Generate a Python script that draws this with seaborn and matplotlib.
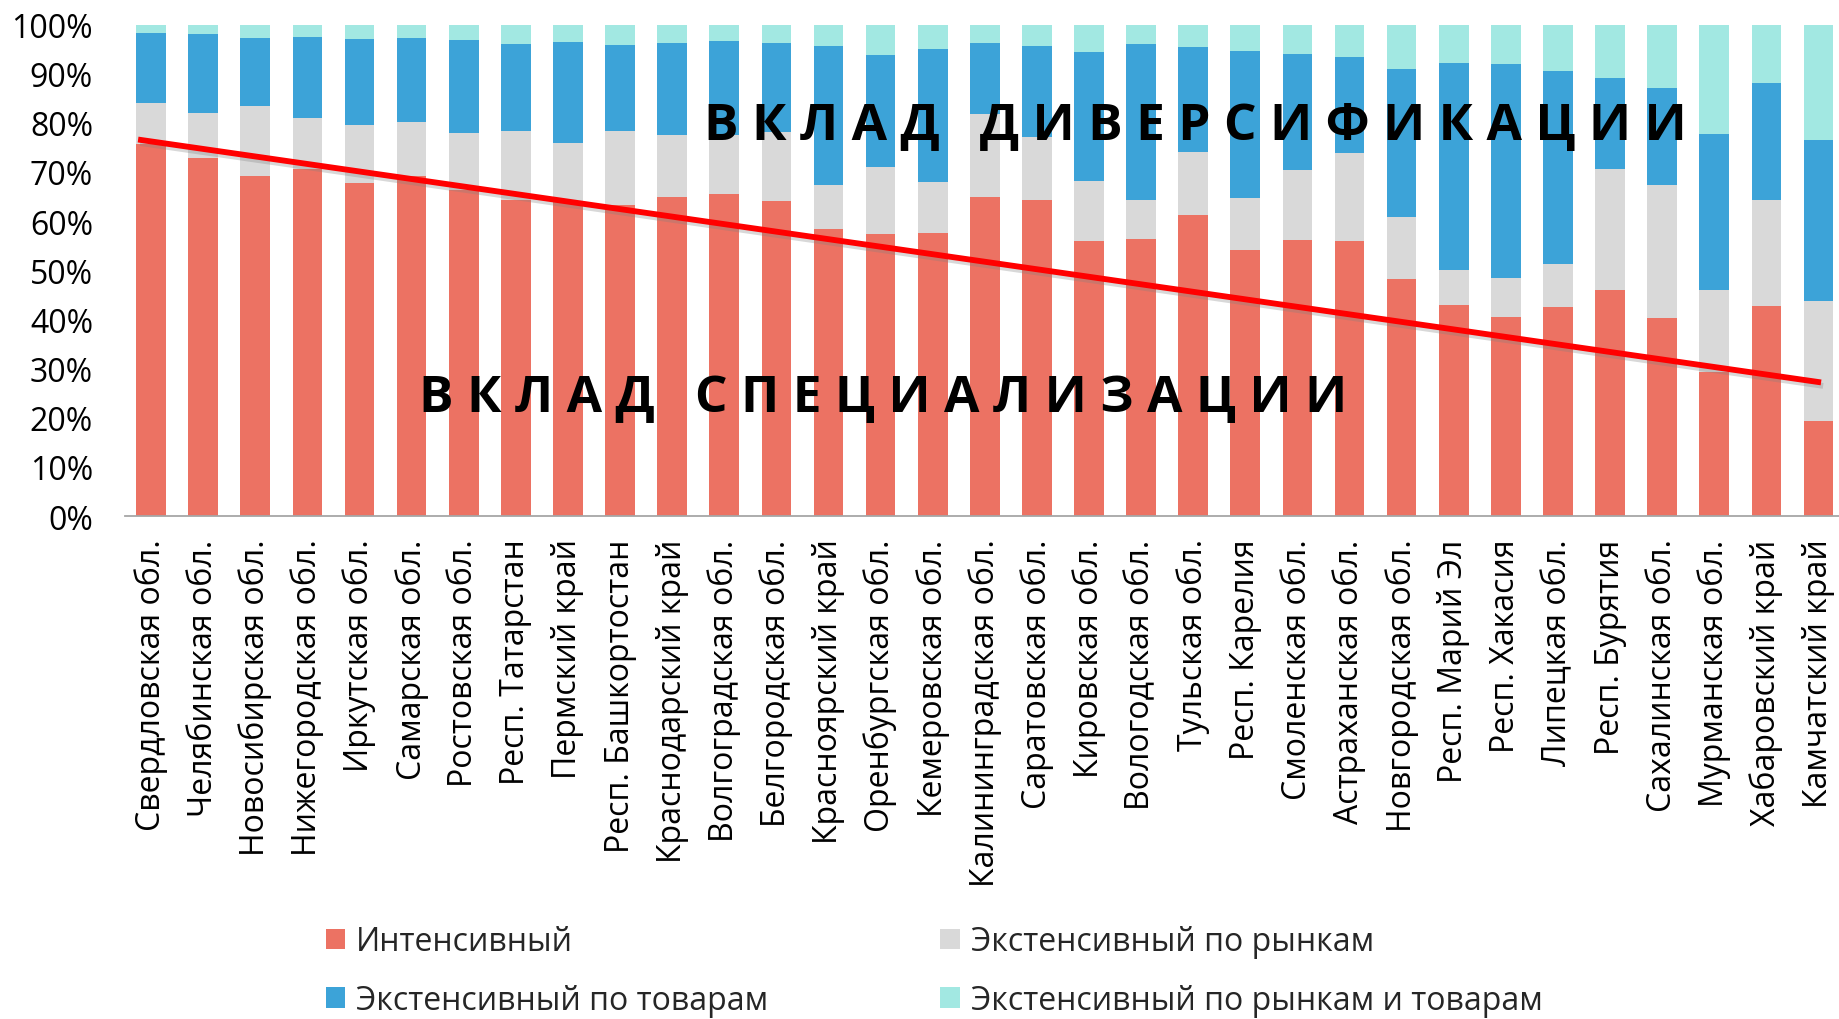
import numpy as np
import pandas as pd
import matplotlib
matplotlib.use("Agg")
import matplotlib.pyplot as plt
import matplotlib.patheffects as pe
from matplotlib.patches import Patch
from matplotlib.ticker import FuncFormatter, MultipleLocator
import seaborn as sns

regions = [
    "Свердловская обл.", "Челябинская обл.", "Новосибирская обл.", "Нижегородская обл.",
    "Иркутская обл.", "Самарская обл.", "Ростовская обл.", "Респ. Татарстан",
    "Пермский край", "Респ. Башкортостан", "Краснодарский край", "Волгоградская обл.",
    "Белгородская обл.", "Красноярский край", "Оренбургская обл.", "Кемеровская обл.",
    "Калининградская обл.", "Саратовская обл.", "Кировская обл.", "Вологодская обл.",
    "Тульская обл.", "Респ. Карелия", "Смоленская обл.", "Астраханская обл.",
    "Новгородская обл.", "Респ. Марий Эл", "Респ. Хакасия", "Липецкая обл.",
    "Респ. Бурятия", "Сахалинская обл.", "Мурманская обл.", "Хабаровский край",
    "Камчатский край",
]

intensive = [75.7, 72.9, 69.2, 70.6, 67.8, 69.2, 66.4, 64.3, 63.8, 63.3, 64.9, 65.5,
             64.0, 58.4, 57.4, 57.6, 65.0, 64.3, 55.9, 56.3, 61.2, 54.1, 56.1, 55.9,
             48.3, 43.0, 40.6, 42.5, 45.9, 40.4, 29.4, 42.7, 19.4]
ext_markets = [8.4, 9.1, 14.2, 10.3, 11.7, 10.9, 11.6, 14.0, 12.0, 15.1, 12.6, 12.0,
               14.1, 9.0, 13.6, 10.3, 16.7, 12.8, 12.3, 8.0, 12.8, 10.6, 14.3, 17.9,
               12.5, 7.1, 7.9, 8.7, 24.7, 27.0, 16.5, 21.6, 24.4]
ext_goods = [14.2, 16.0, 13.8, 16.5, 17.5, 17.1, 18.8, 17.8, 20.6, 17.5, 18.8, 19.1,
             18.2, 28.3, 22.7, 27.2, 14.6, 18.6, 26.3, 31.8, 21.5, 30.0, 23.7, 19.6,
             30.1, 42.0, 43.4, 39.4, 18.6, 19.6, 31.8, 23.9, 32.8]
ext_both = [1.7, 2.0, 2.8, 2.6, 3.0, 2.8, 3.2, 3.9, 3.6, 4.1, 3.7, 3.4,
            3.7, 4.3, 6.3, 4.9, 3.7, 4.3, 5.5, 3.9, 4.5, 5.3, 5.9, 6.6,
            9.1, 7.9, 8.1, 9.4, 10.8, 13.0, 22.3, 11.8, 23.4]

trend_values = [76.6, 27.2]

series_names = ["Интенсивный", "Экстенсивный по рынкам",
                "Экстенсивный по товарам", "Экстенсивный по рынкам и товарам"]
series_colors = ["#EC7263", "#D9D9D9", "#3CA3D8", "#A2E8E2"]

text_div = "В К Л А Д   Д И В Е Р С И Ф И К А Ц И И"
text_spec = "В К Л А Д   С П Е Ц И А Л И З А Ц И И"

sns.set_theme(style="white")
plt.rcParams["font.family"] = ["Open Sans", "DejaVu Sans"]

series = [intensive, ext_markets, ext_goods, ext_both]
cum = np.cumsum(np.array(series), axis=0)
df = pd.DataFrame({"region": regions})
for i in range(4):
    df[f"cum{i}"] = cum[i]

fig = plt.figure(figsize=(18.39, 10.20), dpi=100)
ax = fig.add_axes([0.068, 0.493, 0.935, 0.482])

for i in reversed(range(4)):
    sns.barplot(data=df, x="region", y=f"cum{i}", order=regions, color=series_colors[i],
                saturation=1, width=0.57, errorbar=None, ax=ax, linewidth=0)

n = len(regions)
line, = ax.plot([-0.25, n - 1 + 0.05], trend_values, color="#FF0000", lw=4.2,
                solid_capstyle="butt", zorder=5)
line.set_path_effects([pe.SimpleLineShadow(offset=(1.5, -2.5), alpha=0.3,
                                            shadow_color="gray"), pe.Normal()])

ax.text(20.05, 79.4, text_div, ha="center", va="center", fontsize=37,
        fontweight="bold", color="black", zorder=6)
ax.text(14.04, 24.1, text_spec, ha="center", va="center", fontsize=37,
        fontweight="bold", color="black", zorder=6)

ax.set_xlim(-0.5, n - 0.5)
ax.set_ylim(0, 100)
ax.yaxis.set_major_locator(MultipleLocator(10))
ax.yaxis.set_major_formatter(FuncFormatter(lambda v, p: f"{v:.0f}%"))
ax.set_xlabel("")
ax.set_ylabel("")
for s in ["left", "right", "top"]:
    ax.spines[s].set_visible(False)
ax.spines["bottom"].set_color("#A6A6A6")
ax.spines["bottom"].set_linewidth(1.3)
ax.tick_params(axis="y", length=0, labelsize=23, pad=23, labelcolor="black")
ax.tick_params(axis="x", length=0, labelsize=23, pad=16, labelcolor="black")
plt.setp(ax.get_xticklabels(), rotation=90, ha="center", va="top")
ax.grid(False)

handles = [Patch(facecolor=series_colors[k], edgecolor="none") for k in [0, 2, 1, 3]]
labels = [series_names[k] for k in [0, 2, 1, 3]]
fig.legend(handles, labels, ncol=2, loc="upper left", bbox_to_anchor=(0.177, 0.092),
           frameon=False, fontsize=23, handlelength=0.6, handleheight=0.6,
           handletextpad=0.35, columnspacing=5.4, labelspacing=0.8,
           borderpad=0, borderaxespad=0)

fig.savefig("out.png", dpi=100)
